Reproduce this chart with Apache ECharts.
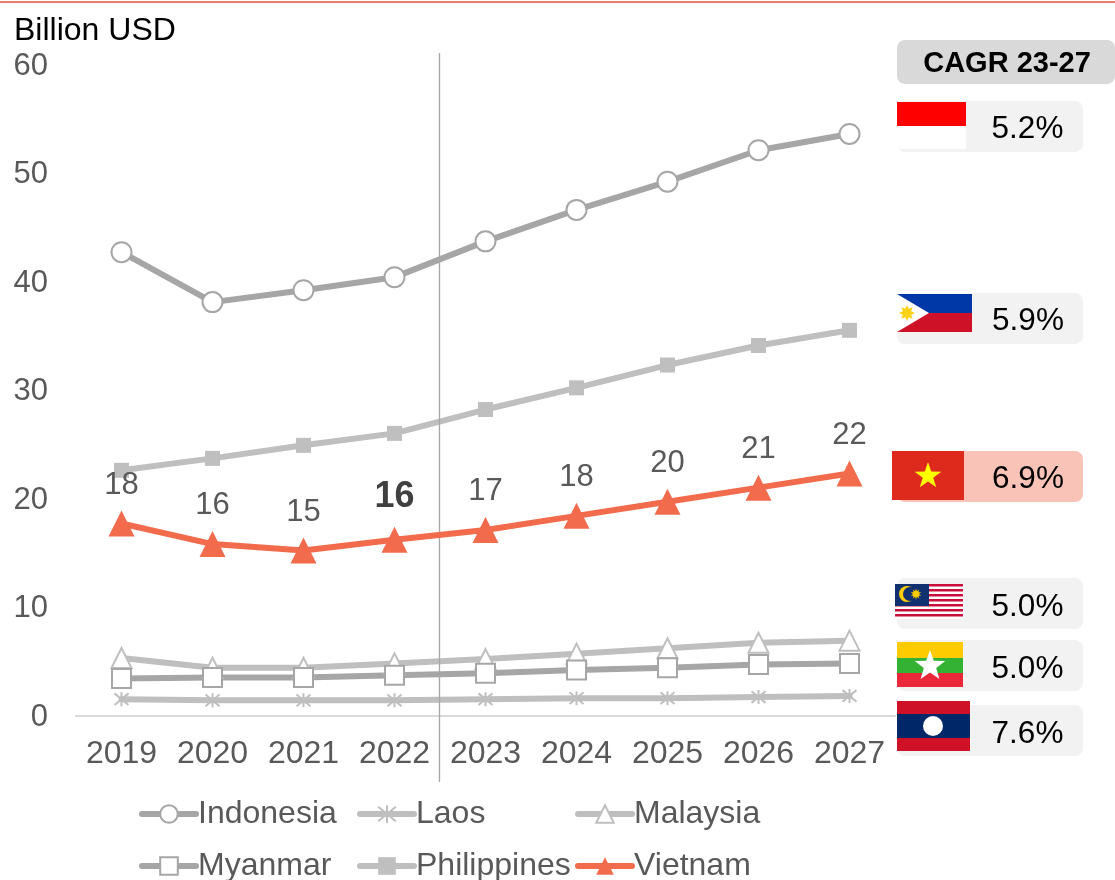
<!DOCTYPE html>
<html>
<head>
<meta charset="utf-8">
<style>
    html, body { margin: 0; padding: 0; background: #ffffff; }
    #chart { width: 1115px; height: 880px; }
</style>
<script src="https://cdn.jsdelivr.net/npm/echarts@6/dist/echarts.min.js"></script>
</head>
<body>
<div id="chart"></div>
<script>
const years = ["2019", "2020", "2021", "2022", "2023", "2024", "2025", "2026", "2027"];

const indonesia = [42.7, 38.1, 39.2, 40.4, 43.7, 46.6, 49.2, 52.1, 53.6];
const laos = [1.5, 1.4, 1.4, 1.4, 1.5, 1.6, 1.6, 1.7, 1.8];
const malaysia = [5.3, 4.4, 4.4, 4.8, 5.2, 5.7, 6.2, 6.7, 6.9];
const myanmar = [3.4, 3.5, 3.5, 3.7, 3.9, 4.2, 4.4, 4.7, 4.8];
const philippines = [22.6, 23.7, 24.9, 26.0, 28.2, 30.2, 32.3, 34.1, 35.5];
const vietnam = [17.7, 15.8, 15.2, 16.2, 17.1, 18.4, 19.7, 21.0, 22.3];
const vietnamLabels = ["18", "16", "15", "16", "17", "18", "20", "21", "22"];

const cagrTitle = "CAGR 23-27";
const cagrIndonesia = "5.2%";
const cagrPhilippines = "5.9%";
const cagrVietnam = "6.9%";
const cagrMalaysia = "5.0%";
const cagrMyanmar = "5.0%";
const cagrLaos = "7.6%";

const FONT = "Liberation Sans, Arial, sans-serif";
const GREY_DARK = "#a6a6a6";
const GREY_LIGHT = "#bfbfbf";
const ORANGE = "#f26b4d";
const TEXT_GREY = "#595959";
const ASTERISK = "path://M0 0L10 10M10 0L0 10M5 -1L5 11";

function makeSeries(name, data, color, symbol, size, fill, borderWidth) {
    return {
        name: name,
        type: "line",
        data: data,
        symbol: symbol,
        symbolSize: size,
        showSymbol: true,
        lineStyle: { color: color, width: 6, cap: "round", join: "round" },
        itemStyle: { color: fill, borderColor: color, borderWidth: borderWidth },
        emphasis: { disabled: true },
        animation: false
    };
}

function makeLegend(name, left, top) {
    return {
        data: [name],
        left: left,
        top: top,
        orient: "horizontal",
        padding: 0,
        itemWidth: 54,
        itemHeight: 22,
        itemGap: 0,
        selectedMode: false,
        lineStyle: { width: 6, cap: "round" },
        textStyle: {
            color: TEXT_GREY,
            fontFamily: FONT,
            fontSize: 32,
            padding: [0, 0, 0, -3]
        }
    };
}

function rect(x, y, w, h, fill, r) {
    return {
        type: "rect",
        z: 10,
        shape: { x: x, y: y, width: w, height: h, r: r || 0 },
        style: { fill: fill }
    };
}

function circle(cx, cy, r, fill) {
    return {
        type: "circle",
        z: 10,
        shape: { cx: cx, cy: cy, r: r },
        style: { fill: fill }
    };
}

function star(cx, cy, n, r, r0, fill) {
    const points = [];
    for (let i = 0; i < n * 2; i++) {
        const radius = i % 2 === 0 ? r : r0;
        const angle = -Math.PI / 2 + i * Math.PI / n;
        points.push([cx + radius * Math.cos(angle), cy + radius * Math.sin(angle)]);
    }
    return {
        type: "polygon",
        z: 10,
        shape: { points: points },
        style: { fill: fill }
    };
}

function label(text, cx, cy, fontSize, weight) {
    return {
        type: "text",
        z: 11,
        x: cx,
        y: cy,
        style: {
            text: text,
            fill: "#000000",
            font: weight + " " + fontSize + "px " + FONT,
            textAlign: "center",
            textVerticalAlign: "middle"
        }
    };
}

function malaysiaFlag() {
    const parts = [rect(895, 584, 68, 35, "#ffffff")];
    for (let i = 0; i < 7; i++) {
        parts.push(rect(895, 584 + i * 5, 68, 2.5, "#c8103a"));
    }
    parts.push(rect(895, 584, 34, 22, "#10306f"));
    parts.push(circle(907, 594, 8, "#ffcc00"));
    parts.push(circle(910, 594, 7, "#10306f"));
    parts.push(star(916, 594, 10, 5.5, 3, "#ffcc00"));
    return parts;
}

function panels() {
    return [
        rect(897, 40, 218, 44, "#d9d9d9", 8),
        label(cagrTitle, 1007, 64, 29, "bold"),

        rect(897, 101, 186, 51, "#f2f2f2", 8),
        rect(897, 102, 69, 24, "#ff0000"),
        rect(897, 126, 69, 23, "#ffffff"),
        label(cagrIndonesia, 1027.5, 129, 31.5, "normal"),

        rect(897, 293, 186, 51, "#f2f2f2", 8),
        rect(897, 294, 75, 19, "#0038a8"),
        rect(897, 313, 75, 19, "#ce1126"),
        {
            type: "polygon",
            z: 10,
            shape: { points: [[897, 294], [929, 313], [897, 332]] },
            style: { fill: "#ffffff" }
        },
        star(907, 313, 8, 8, 4.5, "#fcd116"),

        label(cagrPhilippines, 1028, 321, 31.5, "normal"),

        rect(897, 451, 186, 51, "#f9c4b7", 8),
        rect(892, 451, 72, 49, "#de2a1c"),
        star(928, 476, 5, 14, 5.5, "#ffff00"),
        label(cagrVietnam, 1028, 479, 31.5, "normal"),

        rect(897, 578, 186, 51, "#f2f2f2", 8),
        ...malaysiaFlag(),
        label(cagrMalaysia, 1027.5, 607, 31.5, "normal"),

        rect(897, 640, 186, 51, "#f2f2f2", 8),
        rect(897, 642, 66, 16, "#fecb00"),
        rect(897, 658, 66, 15, "#34b233"),
        rect(897, 673, 66, 14, "#ea2839"),
        star(930, 666, 5, 16, 6.5, "#ffffff"),
        label(cagrMyanmar, 1027.5, 669, 31.5, "normal"),

        rect(897, 705, 186, 51, "#f2f2f2", 8),
        rect(897, 701, 73, 50, "#ce1126"),
        rect(897, 714, 73, 24, "#002868"),
        circle(933, 726, 10, "#ffffff"),
        label(cagrLaos, 1027.5, 734, 31.5, "normal")
    ];
}

const chart = echarts.init(document.getElementById("chart"), null, { renderer: "canvas" });

const vietnamSeries = makeSeries("Vietnam", vietnam, ORANGE, "triangle", 26, ORANGE, 0);
vietnamSeries.z = 5;
vietnamSeries.data = vietnam.map((v, i) => {
    const item = { value: v };
    if (i === 3) {
        item.label = {
            fontSize: 36,
            fontWeight: "bold",
            color: "#404040",
            distance: 12
        };
    }
    return item;
});
vietnamSeries.label = {
    show: true,
    position: "top",
    distance: 10,
    color: TEXT_GREY,
    fontFamily: FONT,
    fontSize: 31,
    formatter: p => vietnamLabels[p.dataIndex]
};

const laosSeries = makeSeries("Laos", laos, GREY_LIGHT, ASTERISK, 14, "rgba(0,0,0,0)", 2);

chart.setOption({
    animation: false,
    backgroundColor: "#ffffff",
    textStyle: { fontFamily: FONT },
    title: {
        text: "Billion USD",
        left: 14,
        top: 15,
        padding: 0,
        textStyle: {
            color: "#000000",
            fontFamily: FONT,
            fontSize: 32,
            fontWeight: "normal"
        }
    },
    grid: { left: 76, top: 64.5, width: 819, height: 651 },
    xAxis: {
        type: "category",
        data: years,
        boundaryGap: true,
        axisTick: { show: false },
        axisLine: { lineStyle: { color: "#d9d9d9", width: 2 } },
        axisLabel: {
            color: TEXT_GREY,
            fontFamily: FONT,
            fontSize: 32,
            margin: 23,
            interval: 0
        }
    },
    yAxis: {
        type: "value",
        min: 0,
        max: 60,
        interval: 10,
        axisLine: { show: false },
        axisTick: { show: false },
        splitLine: { show: false },
        axisLabel: {
            color: TEXT_GREY,
            fontFamily: FONT,
            fontSize: 31,
            margin: 28,
            verticalAlign: "top",
            lineHeight: 3
        }
    },
    legend: [
        makeLegend("Indonesia", 139, 798),
        makeLegend("Laos", 357, 798),
        makeLegend("Malaysia", 575, 798),
        makeLegend("Myanmar", 139, 850),
        makeLegend("Philippines", 357, 850),
        makeLegend("Vietnam", 575, 850)
    ],
    series: [
        makeSeries("Indonesia", indonesia, GREY_DARK, "circle", 20, "#ffffff", 2),
        laosSeries,
        makeSeries("Malaysia", malaysia, GREY_LIGHT, "triangle", 20, "#ffffff", 2),
        makeSeries("Myanmar", myanmar, GREY_DARK, "rect", 19, "#ffffff", 2),
        makeSeries("Philippines", philippines, GREY_LIGHT, "rect", 15, GREY_LIGHT, 0),
        vietnamSeries
    ],
    graphic: {
        elements: [
            rect(0, 1, 1115, 2, "#ee7a68"),
            {
                type: "line",
                z: 4,
                shape: { x1: 439.5, y1: 53, x2: 439.5, y2: 782 },
                style: { stroke: GREY_DARK, lineWidth: 1.3 }
            },
            ...panels()
        ]
    }
});
</script>
</body>
</html>
